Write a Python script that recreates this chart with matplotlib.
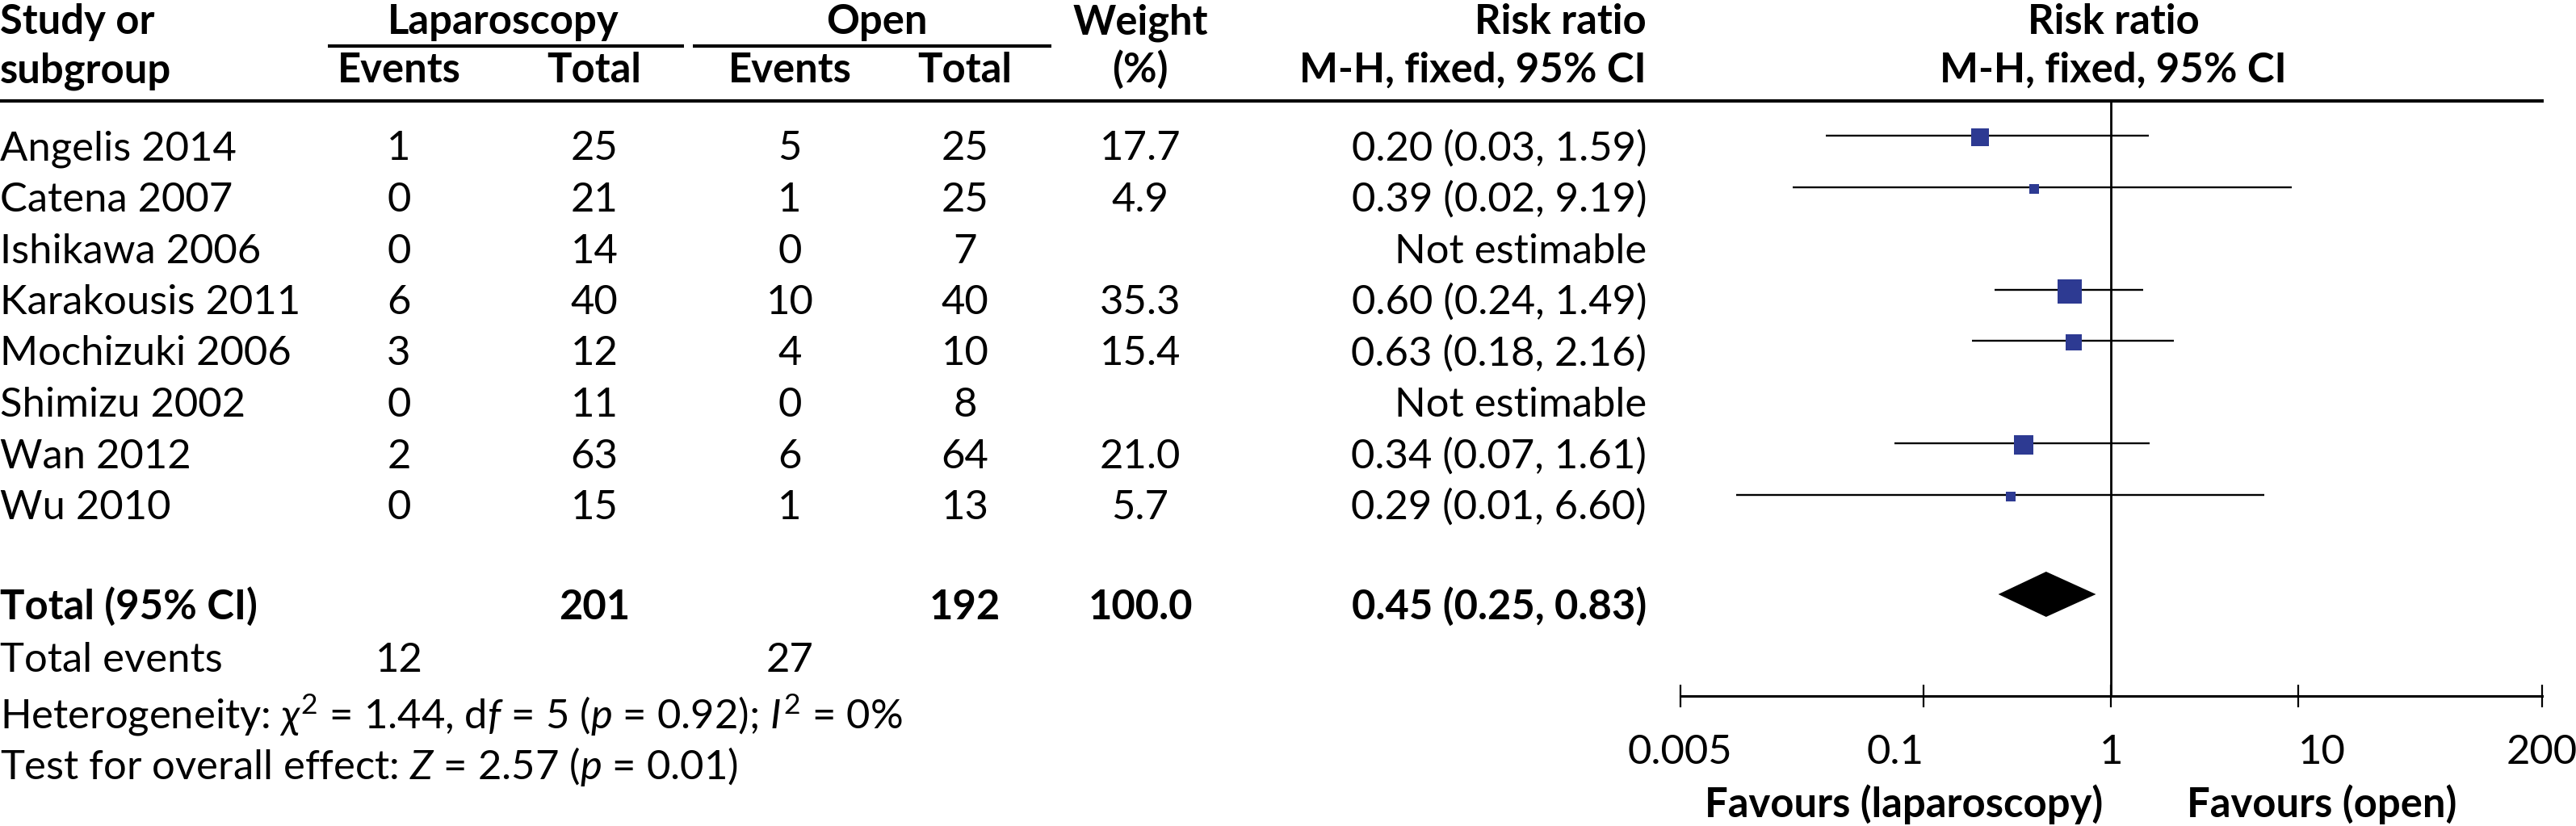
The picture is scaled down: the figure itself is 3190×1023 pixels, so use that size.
import numpy as np
import matplotlib
matplotlib.use('Agg')
import matplotlib.pyplot as plt

plt.rcParams['font.family'] = ['Lato', 'DejaVu Sans']
plt.rcParams['mathtext.fontset'] = 'custom'
plt.rcParams['mathtext.rm'] = 'Lato'
plt.rcParams['mathtext.it'] = 'Lato:italic'
plt.rcParams['mathtext.bf'] = 'Lato:bold'

# ---- data ----
studies = ['Angelis 2014', 'Catena 2007', 'Ishikawa 2006', 'Karakousis 2011',
           'Mochizuki 2006', 'Shimizu 2002', 'Wan 2012', 'Wu 2010']
lap_events = [1, 0, 0, 6, 3, 0, 2, 0]
lap_total = [25, 21, 14, 40, 12, 11, 63, 15]
open_events = [5, 1, 0, 10, 4, 0, 6, 1]
open_total = [25, 25, 7, 40, 10, 8, 64, 13]
weights = [17.7, 4.9, np.nan, 35.3, 15.4, np.nan, 21.0, 5.7]
rr = [0.20, 0.39, np.nan, 0.60, 0.63, np.nan, 0.34, 0.29]
ci_low = [0.03, 0.02, np.nan, 0.24, 0.18, np.nan, 0.07, 0.01]
ci_high = [1.59, 9.19, np.nan, 1.49, 2.16, np.nan, 1.61, 6.60]

total_lap, total_open = 201, 192
events_lap, events_open = 12, 27
pooled_rr, pooled_low, pooled_high = 0.45, 0.25, 0.83
tick_values = [0.005, 0.1, 1, 10, 200]
tick_labels = ['0.005', '0.1', '1', '10', '200']

W, H = 3190, 1023
FS = 36.5
BLUE = '#2d3a92'

fig = plt.figure(figsize=(W / 100, H / 100), dpi=100)
tab = fig.add_axes([0, 0, 1, 1])
tab.set_xlim(0, W)
tab.set_ylim(H, 0)
tab.axis('off')

# column anchors (pixels)
x_study, x_le, x_lt, x_oe, x_ot, x_w, x_rr, x_plot = 0, 494, 736, 978, 1195, 1412, 2039, 2617
hdr1, hdr2 = 42, 102
row_base = 198.5 + 63.5 * np.arange(len(studies))
total_base, events_base, het_base, test_base = 767, 832, 902, 965


def txt(x, y, s, ha='center', bold=False):
    tab.text(x, y, s, ha=ha, va='baseline', fontsize=FS,
             fontweight='bold' if bold else 'normal')


# header
txt(x_study, hdr1, 'Study or', 'left', True)
txt(x_study, hdr2, 'subgroup', 'left', True)
txt(623, hdr1, 'Laparoscopy', bold=True)
txt(1086, hdr1, 'Open', bold=True)
for x in (x_le, x_oe):
    txt(x, hdr2, 'Events', bold=True)
for x in (x_lt, x_ot):
    txt(x, hdr2, 'Total', bold=True)
txt(x_w, hdr1, 'Weight', bold=True)
txt(x_w, hdr2, '(%)', bold=True)
txt(x_rr, hdr1, 'Risk ratio', 'right', True)
txt(x_rr, hdr2, 'M-H, fixed, 95% CI', 'right', True)
txt(x_plot, hdr1, 'Risk ratio', bold=True)
txt(x_plot, hdr2, 'M-H, fixed, 95% CI', bold=True)
tab.plot([406, 847], [57, 57], color='black', lw=3, solid_capstyle='butt')
tab.plot([858, 1302], [57, 57], color='black', lw=3, solid_capstyle='butt')
tab.plot([0, 3150], [125, 125], color='black', lw=3, solid_capstyle='butt')

# study rows
for i, name in enumerate(studies):
    y = row_base[i]
    txt(x_study, y, name, 'left')
    txt(x_le, y, str(lap_events[i]))
    txt(x_lt, y, str(lap_total[i]))
    txt(x_oe, y, str(open_events[i]))
    txt(x_ot, y, str(open_total[i]))
    if np.isnan(rr[i]):
        txt(x_rr, y, 'Not estimable', 'right')
    else:
        txt(x_w, y, f'{weights[i]:.1f}')
        txt(x_rr, y, f'{rr[i]:.2f} ({ci_low[i]:.2f}, {ci_high[i]:.2f})', 'right')

# totals
txt(x_study, total_base, 'Total (95% CI)', 'left', True)
txt(x_lt, total_base, str(total_lap), bold=True)
txt(x_ot, total_base, str(total_open), bold=True)
txt(x_w, total_base, f'{np.nansum(weights):.1f}', bold=True)
txt(x_rr, total_base, f'{pooled_rr:.2f} ({pooled_low:.2f}, {pooled_high:.2f})', 'right', True)
txt(x_study, events_base, 'Total events', 'left')
txt(x_le, events_base, str(events_lap))
txt(x_oe, events_base, str(events_open))
txt(x_study, het_base, r'Heterogeneity: $\chi^2$ = 1.44, d$f$ = 5 ($p$ = 0.92); $I^2$ = 0%', 'left')
txt(x_study, test_base, r'Test for overall effect: $Z$ = 2.57 ($p$ = 0.01)', 'left')

# ---- forest panel ----
ax_left, ax_right, axis_y = 2080.5, 3148, 862
fx = fig.add_axes([ax_left / W, 0, (ax_right - ax_left) / W, 1])
fx.patch.set_alpha(0)
fx.set_xscale('log')
fx.set_xlim(tick_values[0], tick_values[-1])
fx.set_ylim(H, 0)
for s in ('top', 'left', 'right'):
    fx.spines[s].set_visible(False)
fx.spines['bottom'].set_position(('data', axis_y))
fx.spines['bottom'].set_linewidth(2.2)
fx.set_yticks([])
fx.minorticks_off()
fx.set_xticks(tick_values)
fx.set_xticklabels(tick_labels, fontsize=FS)
fx.tick_params(axis='x', which='major', direction='inout', length=20, width=1.6, pad=24)
fx.tick_params(axis='x', which='minor', length=0)
labels = fx.get_xticklabels()
labels[1].set_ha('right')
labels[3].set_ha('left')

fx.vlines(1, 125, axis_y, color='black', lw=2)

mark_y = row_base - 30.5
for i in range(len(studies)):
    if np.isnan(rr[i]):
        continue
    fx.hlines(mark_y[i], ci_low[i], ci_high[i], color='black', lw=1.7)
    side_pt = 5.2 * np.sqrt(weights[i]) / 1.389
    fx.plot(rr[i], mark_y[i] + 2, marker='s', ms=side_pt, mew=0,
            color=BLUE, linestyle='none', zorder=3)

dy = total_base - 31
fx.fill([pooled_low, pooled_rr, pooled_high, pooled_rr],
        [dy, dy - 28, dy, dy + 28], color='black', lw=0)

tab.text(2604, 1012, 'Favours (laparoscopy)', ha='right', va='baseline',
         fontsize=FS, fontweight='bold')
tab.text(2708, 1012, 'Favours (open)', ha='left', va='baseline',
         fontsize=FS, fontweight='bold')

fig.savefig('out.png', dpi=100)
